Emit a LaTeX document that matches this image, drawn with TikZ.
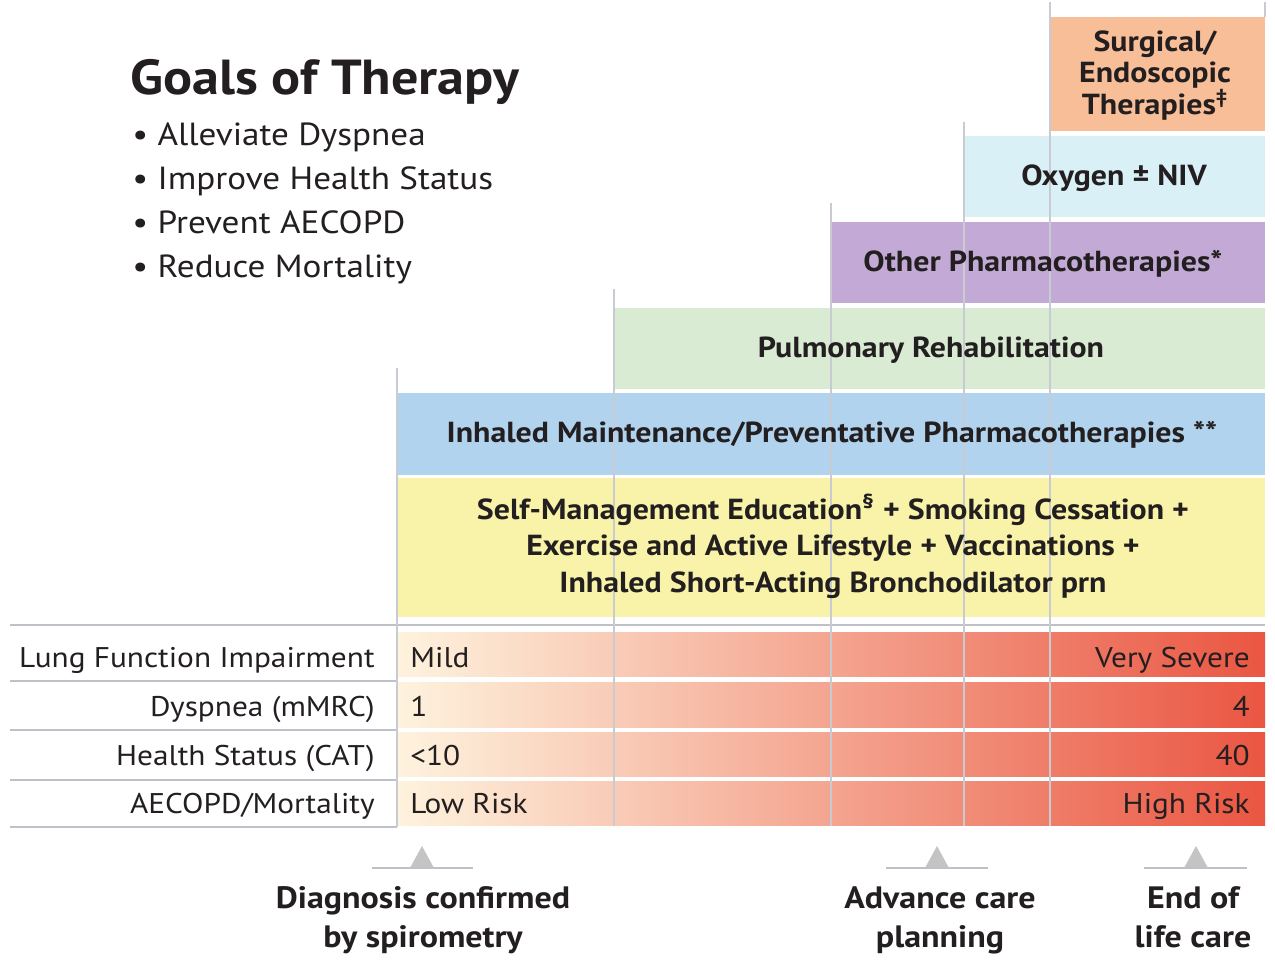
\documentclass[tikz,border=0pt]{standalone}
\usepackage{fontspec}
\setmainfont{PT Sans}[FakeStretch=1.1]
\usetikzlibrary{positioning}
\usepackage{xcolor}

\definecolor{inkblack}{RGB}{35,31,32}
\definecolor{surgfill}{RGB}{247,190,151}
\definecolor{oxyfill}{RGB}{218,240,247}
\definecolor{pharmfill}{RGB}{195,169,213}
\definecolor{rehabfill}{RGB}{217,235,210}
\definecolor{inhalfill}{RGB}{177,211,238}
\definecolor{selffill}{RGB}{248,243,168}
\definecolor{risklow}{RGB}{254,243,222}
\definecolor{riskmid}{RGB}{248,168,130}
\definecolor{riskhigh}{RGB}{234,86,66}
\definecolor{guidegrey}{RGB}{200,204,210}
\definecolor{rulegrey}{RGB}{190,194,200}
\definecolor{markergrey}{RGB}{196,196,196}

\begin{document}
\begin{tikzpicture}[
        x=0.02cm, y=-0.02cm,
        every node/.style={text=inkblack, inner sep=0pt},
        band/.style={
            font=\bfseries\fontsize{16.5}{20.8}\selectfont,
            align=center
        },
        rowtext/.style={
            font=\fontsize{16.2}{20}\selectfont
        },
        milestone/.style={
            font=\bfseries\fontsize{17.6}{22.2}\selectfont,
            align=center,
            anchor=north
        },
        guide/.style={
            draw=guidegrey,
            line width=0.7pt
        },
        rule/.style={
            draw=rulegrey,
            line width=1.1pt
        },
        riskbar/.style={
            left color=risklow,
            middle color=riskmid,
            right color=riskhigh
        }
    ]

    \useasboundingbox (0,0) rectangle (1275,979);

    % Goals
    \node[anchor=base west, font=\bfseries\fontsize{28}{32}\selectfont]
        (goals) at (130,95) {Goals of Therapy};
    \node[anchor=north west, align=left, font=\fontsize{18.2}{25.2}\selectfont]
        (goallist) at (132,122)
        {\textbullet\ Alleviate Dyspnea\\
         \textbullet\ Improve Health Status\\
         \textbullet\ Prevent AECOPD\\
         \textbullet\ Reduce Mortality};

    % Treatment bands
    \fill[surgfill] (1050,17) rectangle (1265,131);
    \fill[oxyfill] (964,136) rectangle (1265,217);
    \fill[pharmfill] (831,222) rectangle (1265,303);
    \fill[rehabfill] (614,308) rectangle (1265,389);
    \fill[inhalfill] (397,393) rectangle (1265,475);
    \fill[selffill] (397,478) rectangle (1265,617);

    % Severity rows
    \shade[riskbar] (397,633) rectangle (1265,677);
    \shade[riskbar] (397,683) rectangle (1265,727);
    \shade[riskbar] (397,732) rectangle (1265,776);
    \shade[riskbar] (397,781) rectangle (1265,825);

    \draw[rule, line width=1.6pt] (10,625) -- (1265,625);
    \draw[rule] (10,681) -- (397,681);
    \draw[rule] (10,730) -- (397,730);
    \draw[rule] (10,780) -- (397,780);
    \draw[rule] (10,827) -- (397,827);

    % Guide lines
    \draw[guide] (397,368) -- (397,827);
    \draw[guide] (614,289) -- (614,826);
    \draw[guide] (831,203) -- (831,826);
    \draw[guide] (964,122) -- (964,826);
    \draw[guide] (1050,2) -- (1050,826);
    \draw[guide] (1265,2) -- (1265,17);

    % Band labels
    \node[band, font=\bfseries\fontsize{16.5}{17.2}\selectfont] (surgical) at (1155,76)
        {Surgical/\\
         Endoscopic\\
         Therapies\textsuperscript{‡}};
    \node[band] (oxygen) at (1114,178) {Oxygen ± NIV};
    \node[band] (otherpharm) at (1043,264) {Other Pharmacotherapies*};
    \node[band] (rehab) at (931,350) {Pulmonary Rehabilitation};
    \node[band] (inhaled) at (832,435)
        {Inhaled Maintenance/Preventative Pharmacotherapies **};
    \node[band] (selfmgmt) at (833,546)
        {Self-Management Education\textsuperscript{§} + Smoking Cessation +\\
         Exercise and Active Lifestyle + Vaccinations +\\
         Inhaled Short-Acting Bronchodilator prn};

    % Row labels
    \node[rowtext, anchor=base east] (lungfn) at (375,667) {Lung Function Impairment};
    \node[rowtext, anchor=base east] (dyspnea) at (375,716) {Dyspnea (mMRC)};
    \node[rowtext, anchor=base east] (health) at (375,765) {Health Status (CAT)};
    \node[rowtext, anchor=base east] (risk) at (375,813) {AECOPD/Mortality};

    \node[rowtext, anchor=base west] (mild) at (410,667) {Mild};
    \node[rowtext, anchor=base west] (mmrclow) at (410,716) {1};
    \node[rowtext, anchor=base west] (catlow) at (410,765) {<10};
    \node[rowtext, anchor=base west] (lowrisk) at (410,813) {Low Risk};

    \node[rowtext, anchor=base east] (vsevere) at (1250,667) {Very Severe};
    \node[rowtext, anchor=base east] (mmrchigh) at (1250,716) {4};
    \node[rowtext, anchor=base east] (cathigh) at (1250,765) {40};
    \node[rowtext, anchor=base east] (highrisk) at (1250,813) {High Risk};

    % Milestones
    \coordinate (diagmark) at (422,846);
    \coordinate (advmark) at (937,846);
    \coordinate (endmark) at (1196,846);

    \fill[markergrey] (diagmark) -- ++(-12,22) -- ++(24,0) -- cycle;
    \fill[markergrey] (advmark) -- ++(-12,22) -- ++(24,0) -- cycle;
    \fill[markergrey] (endmark) -- ++(-12,22) -- ++(24,0) -- cycle;

    \draw[rule] (372,868) -- (473,868);
    \draw[rule] (886,868) -- (988,868);
    \draw[rule] (1144,868) -- (1247,868);

    \node[milestone] (diagnosis) at (423,886)
        {Diagnosis confirmed\\
         by spirometry};
    \node[milestone] (advance) at (940,886)
        {Advance care\\
         planning};
    \node[milestone] (endlife) at (1193,886)
        {End of\\
         life care};

\end{tikzpicture}
\end{document}
